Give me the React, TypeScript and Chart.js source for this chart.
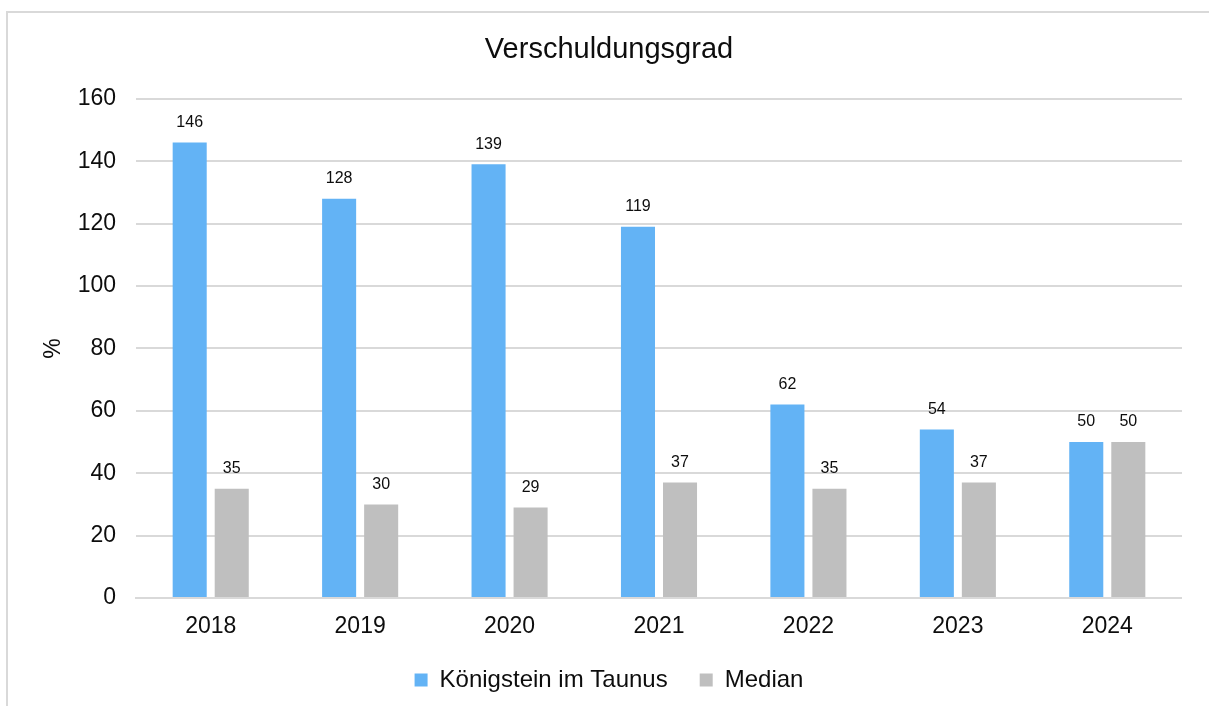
import React, { useEffect, useRef } from "react";
import { Chart, registerables } from "chart.js";

Chart.register(...registerables);

const years = ["2018", "2019", "2020", "2021", "2022", "2023", "2024"];
const koenigstein = [146, 128, 139, 119, 62, 54, 50];
const median = [35, 30, 29, 37, 35, 37, 50];
const seriesNames = ["Königstein im Taunus", "Median"];
const chartTitle = "Verschuldungsgrad";
const yTitle = "%";

const FONT = "'Liberation Sans', Arial, sans-serif";
const TEXT = "#0d0d0d";
const GRID = "#d9d9d9";

const dataLabels = {
  id: "dataLabels",
  afterDatasetsDraw(chart: any) {
    const ctx = chart.ctx;
    ctx.save();
    ctx.font = `16px ${FONT}`;
    ctx.fillStyle = TEXT;
    ctx.textAlign = "center";
    ctx.textBaseline = "middle";
    chart.data.datasets.forEach((ds: any, i: number) => {
      const meta = chart.getDatasetMeta(i);
      meta.data.forEach((el: any, j: number) => {
        ctx.fillText(String(ds.data[j]), el.x, el.y - 20);
      });
    });
    ctx.restore();
  },
};

export default function App() {
  const ref = useRef<HTMLCanvasElement>(null);
  useEffect(() => {
    if (!ref.current) return;
    const chart = new Chart(ref.current, {
      type: "bar",
      data: {
        labels: years,
        datasets: [
          {
            label: seriesNames[0],
            data: koenigstein,
            backgroundColor: "#63b3f5",
            borderWidth: 0,
            categoryPercentage: 0.5626,
            barPercentage: 0.81,
          },
          {
            label: seriesNames[1],
            data: median,
            backgroundColor: "#bfbfbf",
            borderWidth: 0,
            categoryPercentage: 0.5626,
            barPercentage: 0.81,
          },
        ],
      },
      options: {
        responsive: false,
        animation: false,
        layout: { padding: { left: 36, right: 0, top: 0, bottom: 0 } },
        plugins: {
          title: {
            display: true,
            text: chartTitle,
            color: TEXT,
            font: { family: FONT, size: 29, weight: "normal" },
            padding: { top: 33, bottom: 31 },
          },
          legend: {
            position: "bottom",
            labels: {
              color: TEXT,
              font: { family: FONT, size: 24 },
              boxWidth: 13,
              boxHeight: 13,
              padding: 32,
            },
          },
          tooltip: { enabled: false },
        },
        scales: {
          x: {
            grid: { display: false, drawTicks: false },
            border: { display: true, color: GRID, width: 2 },
            ticks: {
              color: TEXT,
              font: { family: FONT, size: 23 },
              padding: 15,
            },
            afterFit(scale: any) {
              scale.height = 38;
            },
          },
          y: {
            min: 0,
            max: 160,
            ticks: {
              stepSize: 20,
              color: TEXT,
              font: { family: FONT, size: 23 },
              padding: 20,
            },
            grid: { color: GRID, lineWidth: 2, drawTicks: false },
            border: { display: false },
            title: {
              display: true,
              text: yTitle,
              color: TEXT,
              font: { family: FONT, size: 23 },
              padding: { top: 4, bottom: 0 },
            },
            afterFit(scale: any) {
              scale.width = 100;
            },
          },
        },
      },
      plugins: [dataLabels],
    });
    return () => chart.destroy();
  }, []);

  return (
    <div
      style={{
        position: "fixed",
        left: 0,
        top: 0,
        width: 1209,
        height: 706,
        overflow: "hidden",
        background: "#fff",
      }}
    >
      <div
        style={{
          position: "absolute",
          left: 6,
          top: 11,
          width: 1400,
          height: 900,
          borderLeft: `2px solid ${GRID}`,
          borderTop: `2px solid ${GRID}`,
        }}
      />
      <canvas
        ref={ref}
        width={1182}
        height={702}
        style={{ position: "absolute", left: 0, top: 0, width: 1182, height: 702 }}
      />
    </div>
  );
}
